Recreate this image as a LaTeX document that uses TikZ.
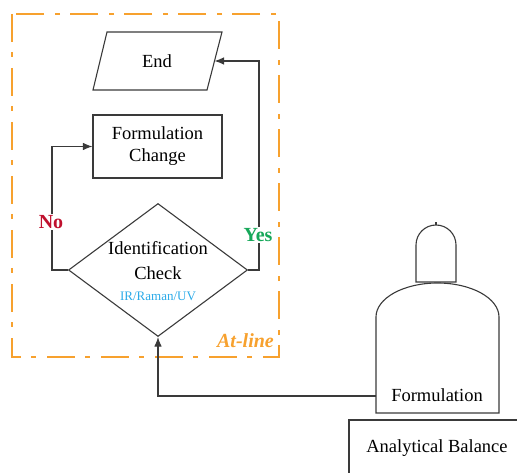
\documentclass[tikz,border=0pt]{standalone}
\usepackage{fontspec}
\setmainfont{Liberation Serif}
\usetikzlibrary{shapes.geometric,arrows.meta}
\definecolor{lineGray}{HTML}{3A3A3A}
\definecolor{zoneOrange}{HTML}{F7A12E}
\definecolor{noRed}{HTML}{C0102E}
\definecolor{yesGreen}{HTML}{17A85A}
\definecolor{techBlue}{HTML}{2AAAE8}
\tikzset{
  x=1pt, y=1pt,
  outline/.style={draw=lineGray, line width=1.1pt},
  flow/.style={draw=lineGray, line width=1.1pt, -{Latex[length=9.5pt,width=7.5pt]}},
  label/.style={font=\fontsize{18.5}{20}\selectfont, align=center, inner sep=0pt},
  answer/.style={font=\fontsize{20}{22}\selectfont\bfseries, fill=white, inner sep=1.5pt},
  zone/.style={draw=zoneOrange, line width=2pt, dash pattern=on 28pt off 10pt on 5pt off 11pt},
}
\begin{document}
\begin{tikzpicture}
\useasboundingbox (0,0) rectangle (517,472);

% at-line zone
\draw[zone] (12,458) rectangle (279,115);
\node[anchor=east, text=zoneOrange, font=\fontsize{20}{22}\selectfont\bfseries\itshape, inner sep=0pt] (atline) at (274,131) {At-line};

% end terminal
\draw[outline] (107,440) -- (222,440) -- (207,382) -- (93,382) -- cycle;
\node[label] (end) at (157,411) {End};
\coordinate (endR) at (214.5,411);

% formulation change
\node[outline, rectangle, minimum width=129pt, minimum height=63pt, inner sep=0pt] (change) at (157.5,325.5) {};
\node[label] (changeTxt) at (157.5,325.5) {Formulation\\[2pt]Change};

% identification check
\node[outline, diamond, minimum width=179pt, minimum height=133pt, inner sep=0pt] (check) at (158,202) {};
\node[label] (checkA) at (158,224) {Identification};
\node[label] (checkB) at (158,199) {Check};
\node[font=\fontsize{13}{14}\selectfont, text=techBlue, inner sep=0pt] (tech) at (158,176) {IR/Raman/UV};

% decision branches
\coordinate (noTurn) at (52,202);
\coordinate (yesTurn) at (259,202);
\draw[flow] (check.west) -- (noTurn) |- (change.west);
\draw[flow] (check.east) -- (yesTurn) |- (endR);
\node[answer, text=noRed] (no) at (51,250) {No};
\node[answer, text=yesGreen] (yes) at (258,237) {Yes};

% formulation vessel
\draw[outline] (416,190) -- (416,227) arc[start angle=180, end angle=0, radius=20] -- (456,190) -- cycle;
\draw[outline] (436,247) -- (436,249.5);
\draw[outline] (376,59) -- (376,155) arc[start angle=180, end angle=0, x radius=61.5, y radius=34] -- (499,59) -- cycle;
\node[label] (formulation) at (437,77) {Formulation};
\coordinate (vesselL) at (376,76);
\draw[flow] (vesselL) -| (check.south);

% analytical balance
\draw[outline] (349,-5) -- (349,52) -- (522,52);
\node[label] (balance) at (437,24) {Analytical Balance};
\end{tikzpicture}
\end{document}
